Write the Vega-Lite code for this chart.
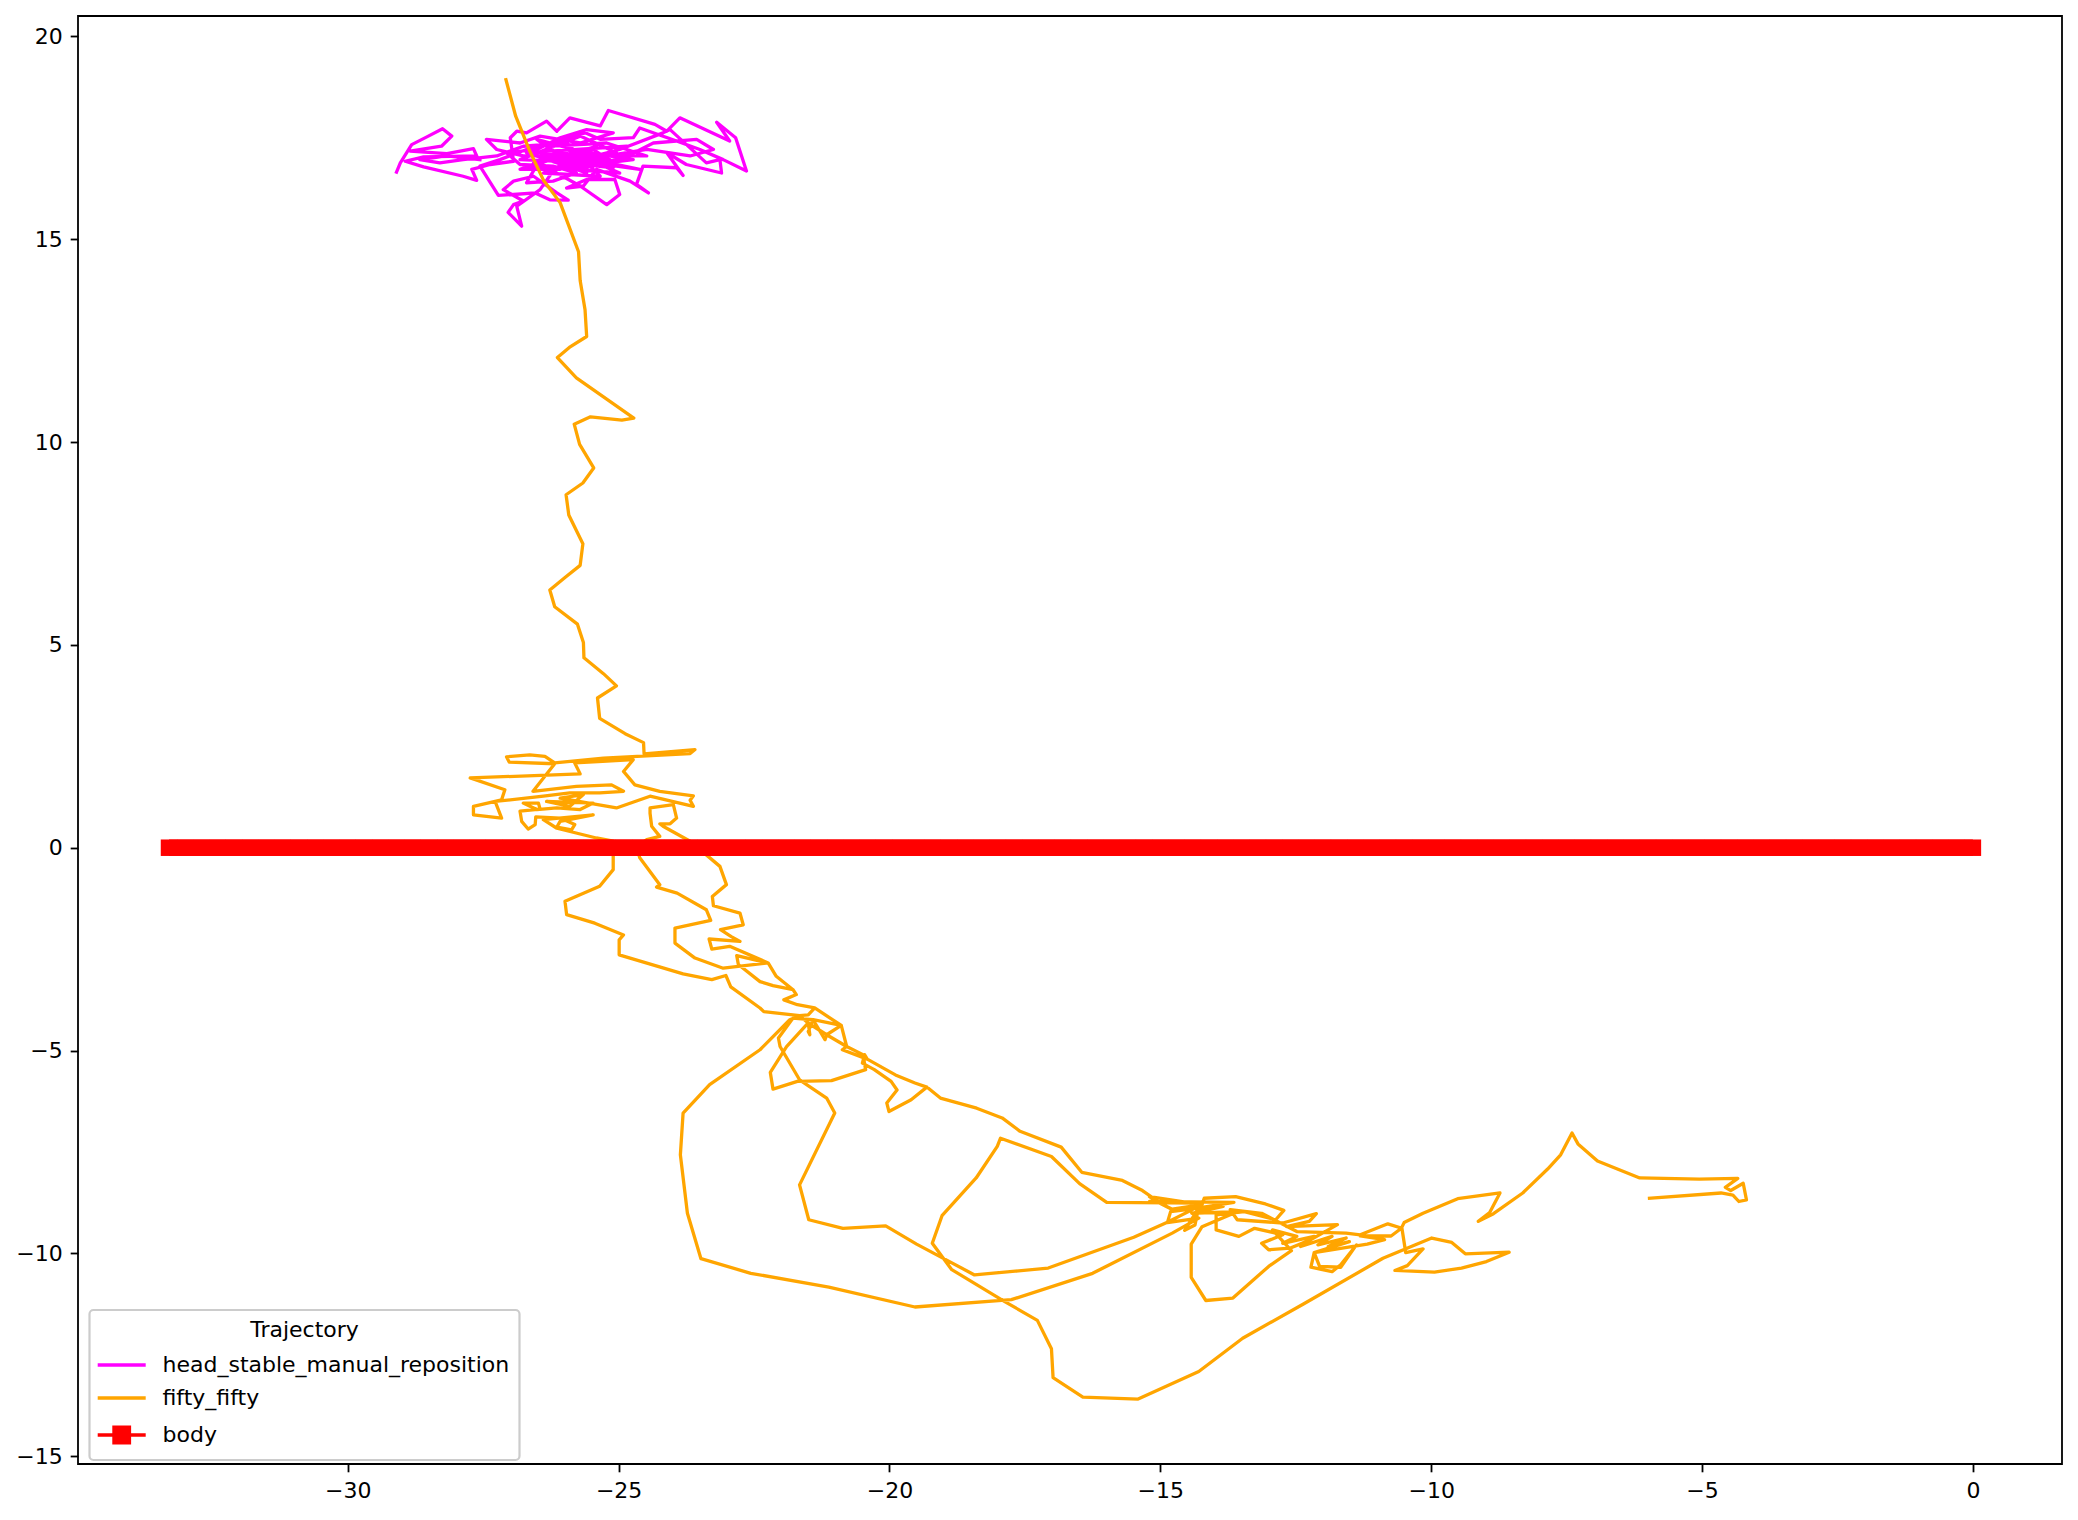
{
  "$schema": "https://vega.github.io/schema/vega-lite/v6.json",
  "width": 1984,
  "height": 1448,
  "autosize": {"type": "none"},
  "padding": {"left": 78, "top": 16, "right": 16, "bottom": 56},
  "background": "white",
  "config": {
    "view": {"stroke": "black", "strokeWidth": 1.8},
    "font": "DejaVu Sans",
    "axis": {"grid": false, "domain": false, "labelFont": "DejaVu Sans", "labelFontSize": 22, "labelColor": "black", "tickColor": "black", "tickWidth": 1.8, "tickSize": 7.8, "title": null},
    "legend": {
      "orient": "none", "legendX": 11.5, "legendY": 1294,
      "titleFont": "DejaVu Sans", "titleFontSize": 22, "titleFontWeight": "normal", "titleColor": "black", "titleAnchor": "middle", "titlePadding": 12,
      "labelFont": "DejaVu Sans", "labelFontSize": 22, "labelColor": "black", "labelOffset": 41, "labelLimit": 0,
      "symbolSize": 256, "symbolStrokeWidth": 3.3, "rowPadding": 11, "padding": 10,
      "fillColor": "rgba(255,255,255,0.8)", "strokeColor": "#cccccc", "cornerRadius": 4, "strokeWidth": 2.2
    }
  },
  "datasets": {
    "head": [
      {"x":-29.10,"y":16.65},{"x":-29.03,"y":16.88},{"x":-28.82,"y":17.33},{"x":-28.54,"y":17.52},{"x":-28.25,"y":17.72},{"x":-28.08,"y":17.54},{"x":-28.27,"y":17.29},{"x":-28.85,"y":17.17},{"x":-28.17,"y":17.11},{"x":-27.68,"y":17.23},
      {"x":-27.62,"y":17.05},{"x":-28.60,"y":17.03},{"x":-28.94,"y":16.92},{"x":-28.60,"y":16.78},{"x":-27.87,"y":16.55},{"x":-27.62,"y":16.45},{"x":-27.71,"y":16.72},{"x":-27.37,"y":16.84},{"x":-26.94,"y":16.92},{"x":-27.00,"y":17.50},
      {"x":-26.88,"y":17.66},{"x":-26.70,"y":17.62},{"x":-26.33,"y":17.91},{"x":-26.14,"y":17.66},{"x":-25.90,"y":17.99},{"x":-25.34,"y":17.79},{"x":-25.19,"y":18.17},{"x":-24.33,"y":17.83},{"x":-24.11,"y":17.66},{"x":-23.87,"y":17.99},
      {"x":-22.95,"y":17.42},{"x":-23.19,"y":17.88},{"x":-22.84,"y":17.50},{"x":-22.64,"y":16.68},{"x":-23.07,"y":16.96},{"x":-23.50,"y":17.21},{"x":-23.93,"y":17.42},{"x":-24.61,"y":17.74},{"x":-24.73,"y":17.50},{"x":-25.34,"y":17.46},
      {"x":-25.62,"y":17.62},{"x":-26.21,"y":17.37},{"x":-26.70,"y":17.21},{"x":-27.19,"y":16.96},{"x":-27.56,"y":16.80},{"x":-27.22,"y":16.08},{"x":-26.94,"y":16.10},{"x":-26.54,"y":16.14},{"x":-26.27,"y":15.97},{"x":-25.93,"y":15.96},
      {"x":-26.14,"y":16.14},{"x":-26.57,"y":16.55},{"x":-26.94,"y":16.43},{"x":-27.13,"y":16.22},{"x":-26.76,"y":15.94},{"x":-26.94,"y":15.85},{"x":-27.04,"y":15.66},{"x":-26.79,"y":15.32},{"x":-26.88,"y":15.81},{"x":-26.45,"y":16.22},
      {"x":-26.21,"y":16.68},{"x":-25.71,"y":16.31},{"x":-25.22,"y":15.85},{"x":-24.98,"y":16.10},{"x":-25.07,"y":16.47},{"x":-25.59,"y":16.47},{"x":-25.96,"y":16.26},{"x":-25.65,"y":16.31},{"x":-25.41,"y":16.72},{"x":-24.79,"y":16.43},
      {"x":-24.45,"y":16.14},{"x":-24.67,"y":16.35},{"x":-24.55,"y":16.80},{"x":-23.93,"y":16.76},{"x":-23.81,"y":16.57},{"x":-24.11,"y":17.13},{"x":-23.75,"y":16.84},{"x":-23.10,"y":16.63},{"x":-23.13,"y":16.96},{"x":-23.38,"y":16.88},
      {"x":-24.05,"y":17.70},{"x":-24.18,"y":17.62},{"x":-24.98,"y":17.21},{"x":-25.71,"y":16.96},{"x":-26.45,"y":17.13},{"x":-25.96,"y":16.88},{"x":-25.47,"y":17.21},{"x":-25.10,"y":16.88},{"x":-25.96,"y":17.21},{"x":-26.57,"y":16.88},
      {"x":-26.08,"y":16.72},{"x":-26.82,"y":16.72},{"x":-26.33,"y":16.96},{"x":-25.59,"y":16.76},{"x":-24.85,"y":17.04},{"x":-24.36,"y":17.37},{"x":-23.56,"y":17.46},{"x":-23.25,"y":17.21},{"x":-23.68,"y":17.05},{"x":-24.48,"y":17.21},
      {"x":-25.22,"y":17.05},{"x":-25.96,"y":17.05},{"x":-26.76,"y":17.05},{"x":-27.25,"y":17.21},{"x":-27.44,"y":17.46},{"x":-26.82,"y":17.37},{"x":-26.45,"y":17.54},{"x":-25.71,"y":17.37},{"x":-25.10,"y":17.62},{"x":-25.59,"y":17.70},
      {"x":-26.08,"y":17.50},{"x":-26.51,"y":17.21},{"x":-27.07,"y":17.13},{"x":-26.82,"y":16.84},{"x":-26.21,"y":16.80},{"x":-25.78,"y":16.63},{"x":-26.21,"y":16.43},{"x":-26.70,"y":16.39},
      {"x":-26.45,"y":16.96},{"x":-25.10,"y":16.76},{"x":-25.96,"y":17.21},{"x":-24.73,"y":16.96},{"x":-26.21,"y":16.72},{"x":-25.41,"y":17.29},{"x":-26.64,"y":16.80},{"x":-24.98,"y":16.63},{"x":-25.71,"y":17.05},{"x":-24.48,"y":17.05},
      {"x":-25.22,"y":17.37},{"x":-26.33,"y":17.29},{"x":-25.59,"y":16.63},{"x":-26.70,"y":17.13},{"x":-24.85,"y":17.29},{"x":-25.84,"y":16.80},{"x":-26.51,"y":17.46},{"x":-25.16,"y":16.96},{"x":-26.08,"y":17.13},{"x":-24.61,"y":16.72},
      {"x":-25.47,"y":16.88},{"x":-26.82,"y":16.96},{"x":-25.71,"y":17.54},{"x":-25.04,"y":17.13},{"x":-26.39,"y":16.63},{"x":-25.34,"y":16.55},{"x":-25.96,"y":17.37},{"x":-26.76,"y":17.29},{"x":-27.25,"y":17.05},{"x":-27.87,"y":16.96},
      {"x":-28.30,"y":16.88},{"x":-28.67,"y":16.96},{"x":-28.17,"y":17.05},{"x":-27.56,"y":16.96}
    ],
    "fifty": [
      {"x":-27.08,"y":18.93},{"x":-26.90,"y":18.03},{"x":-26.64,"y":17.17},{"x":-26.39,"y":16.46},{"x":-26.08,"y":15.90},{"x":-25.74,"y":14.69},{"x":-25.71,"y":13.98},{"x":-25.62,"y":13.26},{"x":-25.59,"y":12.60},{"x":-25.91,"y":12.33},
      {"x":-26.13,"y":12.08},{"x":-25.78,"y":11.58},{"x":-24.72,"y":10.59},{"x":-24.94,"y":10.54},{"x":-25.52,"y":10.62},{"x":-25.82,"y":10.44},{"x":-25.72,"y":9.94},{"x":-25.46,"y":9.36},{"x":-25.66,"y":8.99},{"x":-25.97,"y":8.70},
      {"x":-25.92,"y":8.20},{"x":-25.66,"y":7.49},{"x":-25.71,"y":6.96},{"x":-25.99,"y":6.66},{"x":-26.27,"y":6.35},{"x":-26.18,"y":5.94},{"x":-25.76,"y":5.51},{"x":-25.65,"y":5.06},{"x":-25.64,"y":4.68},{"x":-25.28,"y":4.29},
      {"x":-25.04,"y":3.99},{"x":-25.39,"y":3.69},{"x":-25.35,"y":3.19},{"x":-24.88,"y":2.81},{"x":-24.54,"y":2.59},{"x":-24.53,"y":2.31},
      {"x":-23.59,"y":2.42},{"x":-23.68,"y":2.32},{"x":-25.28,"y":2.21},{"x":-26.18,"y":2.09},{"x":-26.36,"y":2.25},{"x":-26.64,"y":2.29},{"x":-27.07,"y":2.24},{"x":-27.02,"y":2.11},{"x":-26.18,"y":2.07},{"x":-26.58,"y":1.39},
      {"x":-25.78,"y":1.51},{"x":-25.13,"y":1.55},{"x":-24.91,"y":1.39},{"x":-25.35,"y":1.35},{"x":-25.90,"y":1.35},{"x":-26.39,"y":1.27},{"x":-27.28,"y":1.14},{"x":-27.16,"y":0.73},{"x":-27.68,"y":0.81},{"x":-27.68,"y":1.02},
      {"x":-27.16,"y":1.18},{"x":-27.10,"y":1.43},{"x":-27.74,"y":1.72},{"x":-25.71,"y":1.82},{"x":-25.81,"y":2.09},{"x":-24.73,"y":2.17},{"x":-24.91,"y":1.88},{"x":-24.70,"y":1.55},{"x":-24.24,"y":1.39},{"x":-23.62,"y":1.28},
      {"x":-23.68,"y":1.17},{"x":-23.62,"y":1.02},{"x":-24.42,"y":1.27},{"x":-25.04,"y":0.98},{"x":-26.08,"y":1.22},{"x":-25.65,"y":1.31},{"x":-25.90,"y":1.02},{"x":-26.33,"y":1.14},{"x":-25.47,"y":1.10},{"x":-25.71,"y":0.94},
      {"x":-26.14,"y":0.98},{"x":-26.51,"y":0.94},{"x":-26.76,"y":1.10},{"x":-26.48,"y":1.10},{"x":-26.45,"y":0.95},{"x":-26.82,"y":0.90},{"x":-26.79,"y":0.65},{"x":-26.67,"y":0.46},{"x":-26.54,"y":0.57},{"x":-26.53,"y":0.76},
      {"x":-26.08,"y":0.73},{"x":-25.81,"y":0.57},{"x":-25.87,"y":0.44},{"x":-26.14,"y":0.51},{"x":-26.08,"y":0.65},{"x":-25.47,"y":0.81},{"x":-26.39,"y":0.69},{"x":-26.14,"y":0.48},{"x":-25.41,"y":0.24},{"x":-25.10,"y":0.16},
      {"x":-25.10,"y":-0.25},{"x":-25.10,"y":-0.54},{"x":-25.35,"y":-0.95},
      {"x":-25.99,"y":-1.32},{"x":-25.96,"y":-1.65},{"x":-25.44,"y":-1.86},{"x":-24.91,"y":-2.15},{"x":-24.99,"y":-2.27},{"x":-24.99,"y":-2.64},{"x":-23.81,"y":-3.11},{"x":-23.28,"y":-3.25},{"x":-23.02,"y":-3.15},{"x":-22.93,"y":-3.43},
      {"x":-22.39,"y":-3.95},{"x":-22.32,"y":-4.04},{"x":-21.66,"y":-4.14},{"x":-21.50,"y":-4.12},
      {"x":-21.38,"y":-3.95},{"x":-21.70,"y":-3.87},{"x":-21.95,"y":-3.75},{"x":-21.72,"y":-3.62},{"x":-21.78,"y":-3.50},{"x":-22.09,"y":-3.17},{"x":-22.24,"y":-2.84},{"x":-23.07,"y":-2.97},{"x":-23.59,"y":-2.72},{"x":-23.96,"y":-2.35},
      {"x":-23.96,"y":-1.98},{"x":-23.30,"y":-1.79},{"x":-23.38,"y":-1.53},{"x":-23.92,"y":-1.12},{"x":-24.30,"y":-0.97},{"x":-24.24,"y":-0.91},{"x":-24.61,"y":-0.25},{"x":-24.67,"y":0.03},{"x":-24.48,"y":0.20},{"x":-24.24,"y":0.28},
      {"x":-24.39,"y":0.53},{"x":-24.42,"y":0.85},{"x":-24.42,"y":0.98},{"x":-23.99,"y":1.06},{"x":-23.93,"y":0.73},{"x":-24.05,"y":0.59},{"x":-24.24,"y":0.59},{"x":-24.18,"y":0.53},{"x":-23.68,"y":0.16},{"x":-23.13,"y":-0.46},
      {"x":-23.01,"y":-0.91},{"x":-23.27,"y":-1.20},{"x":-23.25,"y":-1.43},{"x":-22.76,"y":-1.61},{"x":-22.70,"y":-1.90},{"x":-23.12,"y":-2.02},{"x":-22.92,"y":-2.19},{"x":-22.76,"y":-2.31},{"x":-23.33,"y":-2.25},{"x":-23.28,"y":-2.50},
      {"x":-22.95,"y":-2.43},{"x":-22.24,"y":-2.84},{"x":-22.82,"y":-2.66},{"x":-22.79,"y":-2.88},{"x":-22.39,"y":-3.30},{"x":-22.15,"y":-3.40},{"x":-21.78,"y":-3.50},{"x":-21.72,"y":-3.62},{"x":-21.95,"y":-3.75},{"x":-21.70,"y":-3.87},
      {"x":-21.38,"y":-3.95},{"x":-20.89,"y":-4.38},{"x":-21.16,"y":-4.61},{"x":-21.19,"y":-4.73},{"x":-21.41,"y":-4.24},{"x":-21.50,"y":-4.53},{"x":-21.47,"y":-4.61},{"x":-21.50,"y":-4.32},
      {"x":-21.90,"y":-4.90},{"x":-22.20,"y":-5.54},{"x":-22.15,"y":-5.95},{"x":-21.70,"y":-5.76},{"x":-21.07,"y":-5.74},{"x":-20.44,"y":-5.47},{"x":-20.49,"y":-5.10},{"x":-20.79,"y":-4.90},{"x":-21.16,"y":-4.61},{"x":-21.50,"y":-4.32},
      {"x":-21.66,"y":-4.14},{"x":-21.84,"y":-4.24},{"x":-22.39,"y":-4.98},{"x":-23.32,"y":-5.84},{"x":-23.81,"y":-6.54},{"x":-23.86,"y":-7.57},{"x":-23.73,"y":-9.01},{"x":-23.48,"y":-10.13},{"x":-22.56,"y":-10.49},{"x":-21.12,"y":-10.83},
      {"x":-19.53,"y":-11.32},{"x":-17.75,"y":-11.14},{"x":-16.25,"y":-10.49},{"x":-14.78,"y":-9.50},{"x":-14.29,"y":-9.13},{"x":-14.87,"y":-9.24},{"x":-14.81,"y":-8.97},{"x":-14.29,"y":-8.88},{"x":-14.55,"y":-9.43},{"x":-14.36,"y":-9.30},
      {"x":-14.29,"y":-8.84},{"x":-14.87,"y":-9.23},{"x":-15.49,"y":-9.60},{"x":-17.07,"y":-10.36},{"x":-18.43,"y":-10.53},{"x":-19.50,"y":-9.77},{"x":-20.07,"y":-9.32},{"x":-20.86,"y":-9.38},{"x":-21.49,"y":-9.17},{"x":-21.66,"y":-8.31},
      {"x":-21.01,"y":-6.54},{"x":-21.16,"y":-6.17},{"x":-21.66,"y":-5.72},{"x":-22.02,"y":-4.90},{"x":-22.05,"y":-4.69},{"x":-21.78,"y":-4.20},{"x":-21.41,"y":-4.24},{"x":-20.89,"y":-4.38},{"x":-20.79,"y":-4.90},{"x":-20.87,"y":-4.98},
      {"x":-20.41,"y":-5.21},{"x":-19.89,"y":-5.60},{"x":-19.53,"y":-5.80},{"x":-19.31,"y":-5.90},{"x":-19.60,"y":-6.21},{"x":-20.01,"y":-6.50},{"x":-20.05,"y":-6.29},{"x":-19.86,"y":-5.97},{"x":-19.97,"y":-5.76},{"x":-20.28,"y":-5.47},
      {"x":-20.50,"y":-5.31},{"x":-20.46,"y":-5.10},{"x":-20.41,"y":-5.21},{"x":-19.89,"y":-5.60},{"x":-19.53,"y":-5.80},{"x":-19.31,"y":-5.90},{"x":-19.06,"y":-6.17},{"x":-18.39,"y":-6.42},{"x":-17.92,"y":-6.66},{"x":-17.59,"y":-6.99},
      {"x":-16.83,"y":-7.38},{"x":-16.45,"y":-8.00},{"x":-15.70,"y":-8.20},{"x":-15.33,"y":-8.45},{"x":-15.04,"y":-8.72},{"x":-14.78,"y":-8.92},{"x":-15.07,"y":-8.72},{"x":-15.20,"y":-8.60},{"x":-14.23,"y":-8.80},{"x":-14.29,"y":-8.76},
      {"x":-15.99,"y":-8.74},{"x":-16.49,"y":-8.28},{"x":-17.01,"y":-7.61},{"x":-17.95,"y":-7.16},{"x":-18.01,"y":-7.36},{"x":-18.40,"y":-8.14},{"x":-19.03,"y":-9.07},{"x":-19.21,"y":-9.75},{"x":-18.85,"y":-10.40},{"x":-17.88,"y":-11.18},
      {"x":-17.27,"y":-11.65},{"x":-17.01,"y":-12.35},{"x":-16.98,"y":-13.06},{"x":-16.43,"y":-13.54},{"x":-15.41,"y":-13.59},{"x":-14.29,"y":-12.91},{"x":-13.48,"y":-12.09},{"x":-12.35,"y":-11.24},{"x":-10.89,"y":-10.12},{"x":-9.99,"y":-9.62},
      {"x":-9.62,"y":-9.73},{"x":-9.37,"y":-10.01},{"x":-8.56,"y":-9.97},{"x":-8.98,"y":-10.20},{"x":-9.44,"y":-10.36},{"x":-9.94,"y":-10.46},{"x":-10.67,"y":-10.42},{"x":-10.44,"y":-10.30},{"x":-10.15,"y":-9.89},{"x":-10.47,"y":-9.98},
      {"x":-10.54,"y":-9.38},{"x":-10.80,"y":-9.27},
      {"x":-11.31,"y":-9.54},{"x":-11.57,"y":-9.50},{"x":-12.48,"y":-9.46},{"x":-13.13,"y":-9.01},{"x":-13.71,"y":-8.92},{"x":-13.58,"y":-9.17},{"x":-12.74,"y":-9.25},{"x":-12.12,"y":-9.02},{"x":-12.25,"y":-9.21},{"x":-12.67,"y":-9.34},
      {"x":-11.73,"y":-9.29},{"x":-12.22,"y":-9.66},{"x":-12.61,"y":-9.87},{"x":-13.00,"y":-9.91},{"x":-13.13,"y":-9.75},{"x":-12.74,"y":-9.54},{"x":-13.26,"y":-9.38},{"x":-13.55,"y":-9.58},{"x":-13.97,"y":-9.42},{"x":-13.97,"y":-9.05},
      {"x":-13.45,"y":-8.97},{"x":-12.87,"y":-9.17},{"x":-12.72,"y":-8.94},{"x":-13.06,"y":-8.78},{"x":-13.61,"y":-8.60},{"x":-14.19,"y":-8.64},{"x":-14.23,"y":-8.80},{"x":-14.78,"y":-8.91},{"x":-15.07,"y":-8.72},{"x":-15.20,"y":-8.72},
      {"x":-13.64,"y":-8.74},{"x":-14.29,"y":-8.88},{"x":-13.84,"y":-8.84},{"x":-14.42,"y":-9.01},{"x":-13.58,"y":-8.97},{"x":-14.23,"y":-9.34},{"x":-14.43,"y":-9.77},{"x":-14.43,"y":-10.59},{"x":-14.16,"y":-11.16},{"x":-13.66,"y":-11.10},
      {"x":-13.00,"y":-10.32},{"x":-12.58,"y":-9.93},{"x":-12.93,"y":-9.42},{"x":-12.48,"y":-9.58},{"x":-12.74,"y":-9.75},{"x":-12.16,"y":-9.58},{"x":-12.41,"y":-9.83},{"x":-11.83,"y":-9.58},{"x":-12.09,"y":-9.79},{"x":-11.57,"y":-9.62},
      {"x":-11.90,"y":-9.83},{"x":-11.51,"y":-9.71},{"x":-12.16,"y":-9.98},{"x":-12.06,"y":-10.32},{"x":-11.67,"y":-10.34},{"x":-11.38,"y":-9.79},{"x":-11.67,"y":-10.28},{"x":-11.83,"y":-10.45},{"x":-12.22,"y":-10.34},{"x":-12.16,"y":-9.98},
      {"x":-11.18,"y":-9.77},{"x":-10.86,"y":-9.66},{"x":-11.31,"y":-9.57},{"x":-10.74,"y":-9.57},{"x":-10.55,"y":-9.38},
      {"x":-10.50,"y":-9.24},{"x":-10.15,"y":-9.01},{"x":-9.51,"y":-8.65},{"x":-8.73,"y":-8.51},{"x":-8.92,"y":-8.99},{"x":-9.13,"y":-9.21},{"x":-8.85,"y":-9.02},{"x":-8.31,"y":-8.51},{"x":-7.85,"y":-7.92},{"x":-7.61,"y":-7.57},
      {"x":-7.40,"y":-7.03},{"x":-7.29,"y":-7.30},{"x":-6.93,"y":-7.72},{"x":-6.15,"y":-8.14},{"x":-5.05,"y":-8.17},{"x":-4.34,"y":-8.15},{"x":-4.57,"y":-8.37},{"x":-4.47,"y":-8.45},{"x":-4.24,"y":-8.27},{"x":-4.18,"y":-8.68},
      {"x":-4.32,"y":-8.72},{"x":-4.43,"y":-8.56},{"x":-4.65,"y":-8.51},{"x":-5.97,"y":-8.64}
    ],
    "body": [
      {"x":-33.3,"y":0},{"x":-33.0,"y":0},{"x":-32.7,"y":0},{"x":-32.4,"y":0},{"x":-32.1,"y":0},{"x":-31.8,"y":0},{"x":-31.5,"y":0},{"x":-31.2,"y":0},{"x":-30.9,"y":0},{"x":-30.6,"y":0},
      {"x":-30.3,"y":0},{"x":-30.0,"y":0},{"x":-29.7,"y":0},{"x":-29.4,"y":0},{"x":-29.1,"y":0},{"x":-28.8,"y":0},{"x":-28.5,"y":0},{"x":-28.2,"y":0},{"x":-27.9,"y":0},{"x":-27.6,"y":0},
      {"x":-27.3,"y":0},{"x":-27.0,"y":0},{"x":-26.7,"y":0},{"x":-26.4,"y":0},{"x":-26.1,"y":0},{"x":-25.8,"y":0},{"x":-25.5,"y":0},{"x":-25.2,"y":0},{"x":-24.9,"y":0},{"x":-24.6,"y":0},
      {"x":-24.3,"y":0},{"x":-24.0,"y":0},{"x":-23.7,"y":0},{"x":-23.4,"y":0},{"x":-23.1,"y":0},{"x":-22.8,"y":0},{"x":-22.5,"y":0},{"x":-22.2,"y":0},{"x":-21.9,"y":0},{"x":-21.6,"y":0},
      {"x":-21.3,"y":0},{"x":-21.0,"y":0},{"x":-20.7,"y":0},{"x":-20.4,"y":0},{"x":-20.1,"y":0},{"x":-19.8,"y":0},{"x":-19.5,"y":0},{"x":-19.2,"y":0},{"x":-18.9,"y":0},{"x":-18.6,"y":0},
      {"x":-18.3,"y":0},{"x":-18.0,"y":0},{"x":-17.7,"y":0},{"x":-17.4,"y":0},{"x":-17.1,"y":0},{"x":-16.8,"y":0},{"x":-16.5,"y":0},{"x":-16.2,"y":0},{"x":-15.9,"y":0},{"x":-15.6,"y":0},
      {"x":-15.3,"y":0},{"x":-15.0,"y":0},{"x":-14.7,"y":0},{"x":-14.4,"y":0},{"x":-14.1,"y":0},{"x":-13.8,"y":0},{"x":-13.5,"y":0},{"x":-13.2,"y":0},{"x":-12.9,"y":0},{"x":-12.6,"y":0},
      {"x":-12.3,"y":0},{"x":-12.0,"y":0},{"x":-11.7,"y":0},{"x":-11.4,"y":0},{"x":-11.1,"y":0},{"x":-10.8,"y":0},{"x":-10.5,"y":0},{"x":-10.2,"y":0},{"x":-9.9,"y":0},{"x":-9.6,"y":0},
      {"x":-9.3,"y":0},{"x":-9.0,"y":0},{"x":-8.7,"y":0},{"x":-8.4,"y":0},{"x":-8.1,"y":0},{"x":-7.8,"y":0},{"x":-7.5,"y":0},{"x":-7.2,"y":0},{"x":-6.9,"y":0},{"x":-6.6,"y":0},
      {"x":-6.3,"y":0},{"x":-6.0,"y":0},{"x":-5.7,"y":0},{"x":-5.4,"y":0},{"x":-5.1,"y":0},{"x":-4.8,"y":0},{"x":-4.5,"y":0},{"x":-4.2,"y":0},{"x":-3.9,"y":0},{"x":-3.6,"y":0},
      {"x":-3.3,"y":0},{"x":-3.0,"y":0},{"x":-2.7,"y":0},{"x":-2.4,"y":0},{"x":-2.1,"y":0},{"x":-1.8,"y":0},{"x":-1.5,"y":0},{"x":-1.2,"y":0},{"x":-0.9,"y":0},{"x":-0.6,"y":0},
      {"x":-0.3,"y":0},{"x":0.0,"y":0}
    ]
  },
  "encoding": {
    "x": {"field": "x", "type": "quantitative", "scale": {"domain": [-34.98, 1.645], "nice": false, "zero": false},
          "axis": {"values": [-30, -25, -20, -15, -10, -5, 0], "labelPadding": 9, "labelExpr": "replace(format(datum.value, 'd'), '-', '\u2212')"}},
    "y": {"field": "y", "type": "quantitative", "scale": {"domain": [-15.19, 20.5], "nice": false, "zero": false},
          "axis": {"values": [-15, -10, -5, 0, 5, 10, 15, 20], "labelPadding": 8, "labelExpr": "replace(format(datum.value, 'd'), '-', '\u2212')"}}
  },
  "layer": [
    {
      "data": {"name": "head"},
      "mark": {"type": "line", "strokeWidth": 3.3, "strokeJoin": "round", "strokeCap": "square"},
      "encoding": {
        "order": {"value": null},
        "color": {
          "datum": "head_stable_manual_reposition",
          "scale": {"domain": ["head_stable_manual_reposition", "fifty_fifty", "body"], "range": ["#ff00ff", "#ffa500", "#ff0000"]},
          "legend": {
            "title": "Trajectory",
            "labelLimit": 0,
            "symbolType": "M-1.6,0H4.4",
            "encode": {
              "symbols": {
                "update": {
                  "shape": {"signal": "datum.value === 'body' ? 'M-1.6,0H4.4M0.43,-0.97H2.37V0.97H0.43Z' : 'M-1.6,0H4.4'"},
                  "fill": {"signal": "datum.value === 'body' ? '#ff0000' : 'transparent'"},
                  "stroke": {"signal": "datum.value === 'body' ? '#ff0000' : (datum.value === 'fifty_fifty' ? '#ffa500' : '#ff00ff')"},
                  "strokeWidth": {"value": 3.3},
                  "opacity": {"value": 1}
                }
              }
            }
          }
        }
      }
    },
    {
      "data": {"name": "fifty"},
      "mark": {"type": "line", "strokeWidth": 3.3, "strokeJoin": "round", "strokeCap": "square"},
      "encoding": {"order": {"value": null}, "color": {"datum": "fifty_fifty"}}
    },
    {
      "data": {"name": "body"},
      "mark": {"type": "line", "strokeWidth": 16.6, "strokeCap": "butt"},
      "encoding": {"order": {"value": null}, "color": {"datum": "body"}}
    },
    {
      "data": {"name": "body"},
      "mark": {"type": "point", "shape": "square", "filled": true, "size": 272, "opacity": 1, "strokeWidth": 0},
      "encoding": {"color": {"datum": "body"}}
    }
  ]
}
